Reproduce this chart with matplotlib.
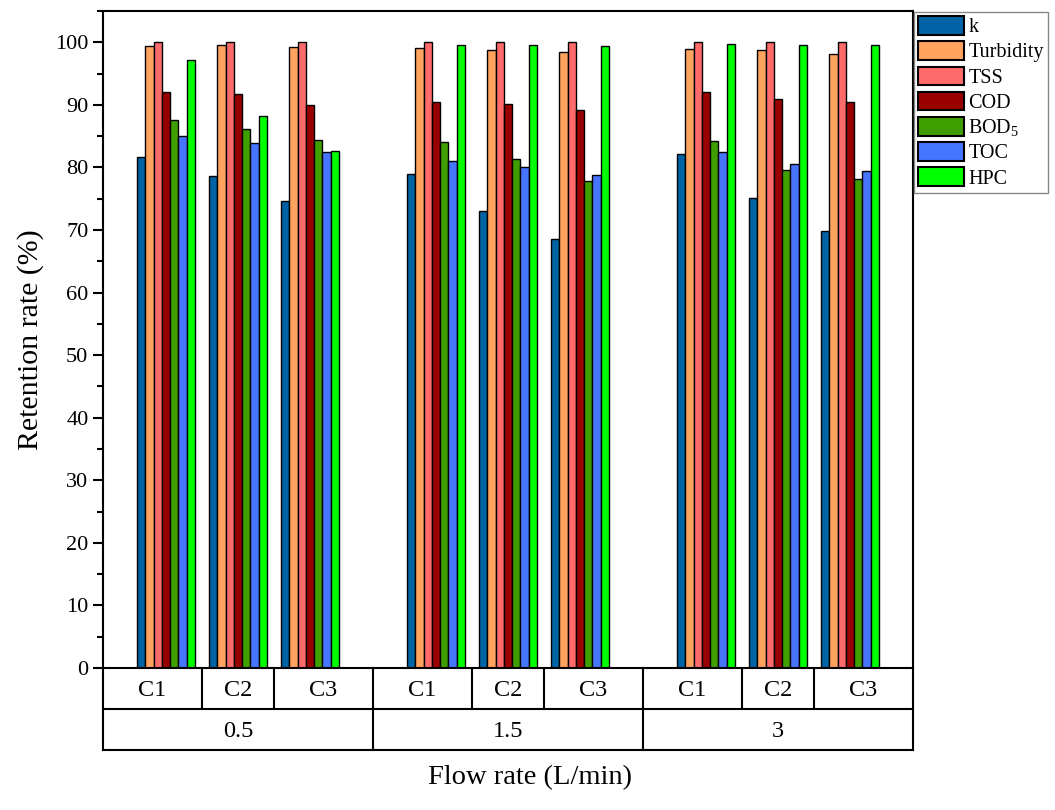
import numpy as np
import matplotlib
matplotlib.use("Agg")
import matplotlib.pyplot as plt
from matplotlib.ticker import MultipleLocator

plt.rcParams['font.family'] = ['Liberation Serif', 'DejaVu Serif']
plt.rcParams['mathtext.fontset'] = 'custom'
plt.rcParams['mathtext.rm'] = 'Liberation Serif'
plt.rcParams['mathtext.default'] = 'regular'

# data
flow_rates = ['0.5', '1.5', '3']
columns = ['C1', 'C2', 'C3']
series = ['k', 'Turbidity', 'TSS', 'COD', 'BOD$_5$', 'TOC', 'HPC']
colors = ['#0063A6', '#FFA35E', '#FF6B6B', '#990000', '#3F9F00', '#4675FF', '#00FF00']

# values per series, order: 0.5-C1, 0.5-C2, 0.5-C3, 1.5-C1, ... 3-C3
k_vals = [81.6, 78.7, 74.7, 79.0, 73.0, 68.5, 82.1, 75.1, 69.8]
turbidity = [99.4, 99.5, 99.3, 99.1, 98.7, 98.5, 98.9, 98.7, 98.2]
tss = [100.0, 100.0, 100.0, 100.0, 100.0, 100.0, 100.0, 100.0, 100.0]
cod = [92.1, 91.7, 89.9, 90.4, 90.2, 89.2, 92.1, 91.0, 90.5]
bod5 = [87.6, 86.1, 84.4, 84.1, 81.4, 77.9, 84.3, 79.6, 78.1]
toc = [85.1, 83.9, 82.5, 81.1, 80.1, 78.8, 82.4, 80.5, 79.4]
hpc = [97.2, 88.2, 82.6, 99.6, 99.5, 99.4, 99.7, 99.6, 99.5]
values = [k_vals, turbidity, tss, cod, bod5, toc, hpc]

# x layout: each group 3.75 units wide, columns centered at 0.875, 1.875, 2.875
GROUP_W = 3.75
FIRST = 0.875
BAR_W = 0.115
centers = np.array([g * GROUP_W + FIRST + c for g in range(len(flow_rates)) for c in range(len(columns))])

fig = plt.figure(figsize=(10.55, 8.1), dpi=100)
ax = fig.add_axes([103 / 1055, 1 - 668 / 810, 810 / 1055, 657 / 810])

for i, (name, vals, col) in enumerate(zip(series, values, colors)):
    ax.bar(centers + (i - 3) * BAR_W, vals, BAR_W, color=col, edgecolor='black',
           linewidth=1.0, label=name)

ax.set_xlim(0, GROUP_W * len(flow_rates))
ax.set_ylim(0, 105)
ax.yaxis.set_major_locator(MultipleLocator(10))
ax.yaxis.set_minor_locator(MultipleLocator(5))
ax.set_xticks([])
ax.tick_params(axis='y', which='major', direction='out', length=7, width=1.5, labelsize=16)
ax.tick_params(axis='y', which='minor', direction='out', length=4, width=1.5)
for s in ax.spines.values():
    s.set_linewidth(1.5)
ax.set_ylabel('Retention rate (%)', fontsize=21.5, labelpad=8)

# two-level category table below the axes
tab = fig.add_axes([103 / 1055, 1 - 750 / 810, 810 / 1055, 82 / 810])
tab.set_xlim(ax.get_xlim())
tab.set_ylim(0, 2)
tab.axis('off')
lw = 1.5
tab.plot([0, GROUP_W * 3], [1, 1], color='black', lw=lw, clip_on=False)
tab.plot([0, GROUP_W * 3], [0, 0], color='black', lw=lw, clip_on=False)
for g in range(len(flow_rates) + 1):
    tab.plot([g * GROUP_W, g * GROUP_W], [0, 2], color='black', lw=lw, clip_on=False)
for g in range(len(flow_rates)):
    bounds = [g * GROUP_W] + [g * GROUP_W + FIRST + c - 0.5 for c in range(1, len(columns))] + [(g + 1) * GROUP_W]
    for xb in bounds[1:-1]:
        tab.plot([xb, xb], [1, 2], color='black', lw=lw, clip_on=False)
    for c, name in enumerate(columns):
        tab.text((bounds[c] + bounds[c + 1]) / 2, 1.45, name, ha='center', va='center', fontsize=17.5)
    tab.text(g * GROUP_W + GROUP_W / 2, 0.45, flow_rates[g], ha='center', va='center', fontsize=17.5)

fig.text(530 / 1055, 1 - 778 / 810, 'Flow rate (L/min)', ha='center', va='center', fontsize=20.5)

leg = ax.legend(loc='upper left', bbox_to_anchor=(914 / 1055, 1 - 12 / 810),
                bbox_transform=fig.transFigure, borderaxespad=0, fontsize=14.5,
                handlelength=2.3, handleheight=1.05, labelspacing=0.2,
                handletextpad=0.2, borderpad=0.2, fancybox=False, framealpha=1,
                edgecolor='#888888')
leg.get_frame().set_linewidth(1.0)
for h in leg.legend_handles:
    h.set_linewidth(1.5)

fig.savefig('out.png', dpi=100)
